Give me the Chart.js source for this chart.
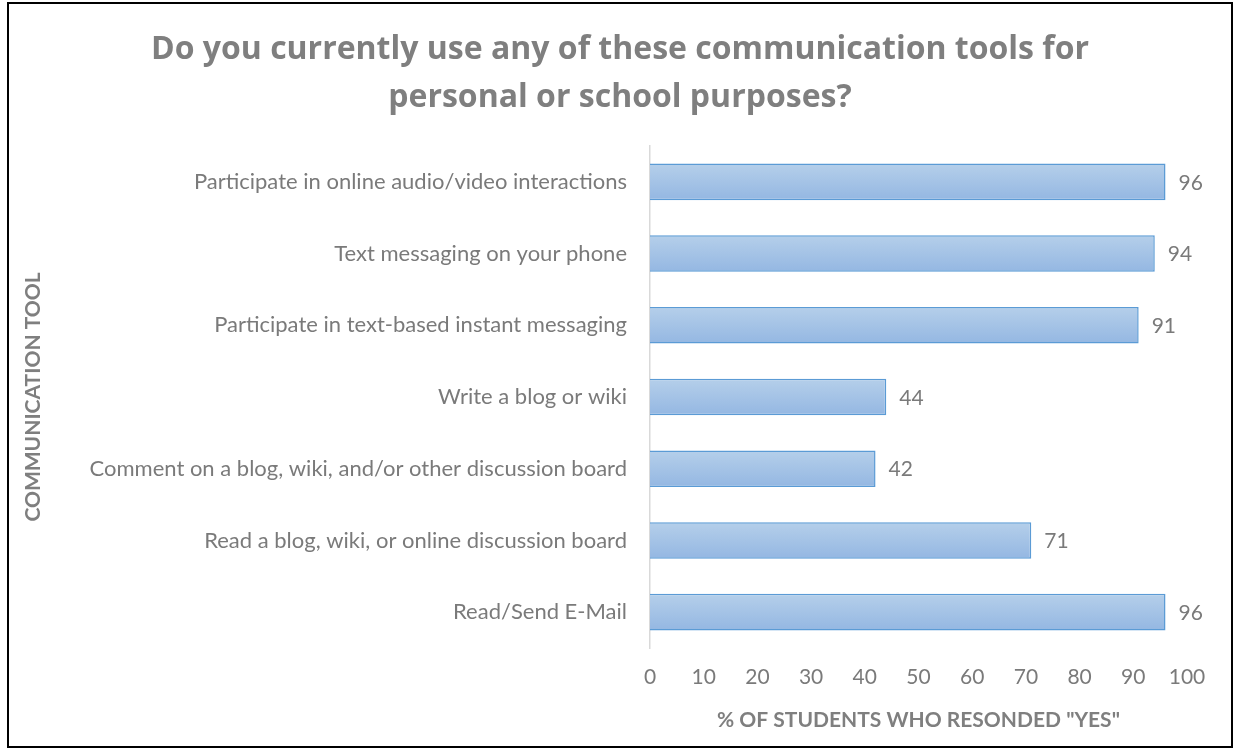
<!DOCTYPE html>
<html>
<head>
<meta charset="utf-8">
<script src="https://cdn.jsdelivr.net/npm/chart.js@4"></script>
<style>
  body { margin: 0; background: #fff; }
  #frame { position: absolute; left: 7px; top: 2px; width: 1222px; height: 742px; border: 2px solid #000; background: #fff; }
  #chart { display: block; }
</style>
</head>
<body>
<div id="frame"><canvas id="chart" width="1222" height="742"></canvas></div>
<script>
const titleLines = ['Do you currently use any of these communication tools for', 'personal or school purposes?'];
const categories = [
    'Participate in online audio/video interactions',
    'Text messaging on your phone',
    'Participate in text-based instant messaging',
    'Write a blog or wiki',
    'Comment on a blog, wiki, and/or other discussion board',
    'Read a blog, wiki, or online discussion board',
    'Read/Send E-Mail'
];
const yesPercent = [96, 94, 91, 44, 42, 71, 96];
const xTicks = [0, 10, 20, 30, 40, 50, 60, 70, 80, 90, 100];

const grey = '#7f7f7f';
const labelGrey = '#7a7a7a';
const barPct = 0.51;

// title centred on the whole frame (the built-in one centres between the paddings)
const frameTitle = {
    id: 'frameTitle',
    afterDraw(chart) {
        const c = chart.ctx;
        c.save();
        c.font = 'bold 32px "Open Sans"';
        c.fillStyle = grey;
        c.textAlign = 'center';
        c.textBaseline = 'middle';
        titleLines.forEach((line, i) => c.fillText(line, chart.width / 2, 46 + i * 48));
        c.restore();
    }
};

// value labels at the end of each bar
const valueLabels = {
    id: 'valueLabels',
    afterDatasetsDraw(chart) {
        const c = chart.ctx;
        const meta = chart.getDatasetMeta(0);
        c.save();
        c.font = '21px Lato';
        c.fillStyle = labelGrey;
        c.textBaseline = 'middle';
        c.textAlign = 'left';
        meta.data.forEach((bar, i) => {
            c.fillText(String(yesPercent[i]), bar.x + 13, bar.y + 1);
        });
        c.restore();
    }
};

function barGradient(context) {
    const chart = context.chart;
    const yScale = chart.scales.y;
    if (!chart.chartArea || !yScale || context.dataIndex === undefined) return '#a5c2e6';
    const cy = yScale.getPixelForValue(context.dataIndex);
    const h = (chart.chartArea.bottom - chart.chartArea.top) / categories.length * barPct;
    if (!Number.isFinite(cy) || !Number.isFinite(h)) return '#a5c2e6';
    const g = chart.ctx.createLinearGradient(0, cy - h / 2, 0, cy + h / 2);
    g.addColorStop(0, '#b5cfea');
    g.addColorStop(1, '#94b7e2');
    return g;
}

const ctx = document.getElementById('chart').getContext('2d');
new Chart(ctx, {
    type: 'bar',
    data: {
        labels: categories,
        datasets: [{
            data: yesPercent,
            backgroundColor: barGradient,
            borderColor: '#5b9bd5',
            borderWidth: 1.5,
            categoryPercentage: 1,
            barPercentage: barPct
        }]
    },
    options: {
        indexAxis: 'y',
        responsive: false,
        animation: false,
        layout: { padding: { left: 12, right: 44, top: 142, bottom: 0 } },
        plugins: {
            legend: { display: false },
            tooltip: { enabled: false },
            title: { display: false }
        },
        scales: {
            x: {
                min: 0,
                max: 100,
                afterBuildTicks(scale) {
                    scale.ticks = xTicks.map(v => ({ value: v }));
                },
                grid: { display: false },
                border: { display: false },
                ticks: { color: labelGrey, font: { family: 'Lato', size: 21 }, padding: 9 },
                title: {
                    display: true,
                    text: '% OF STUDENTS WHO RESONDED "YES"',
                    color: grey,
                    font: { family: 'Lato', size: 21, weight: 'bold' },
                    padding: { top: 8, bottom: 13 }
                },
                afterFit(scale) { scale.height = 98; }
            },
            y: {
                grid: { display: false },
                border: { display: true, color: '#d9d9d9', width: 1.5 },
                ticks: { color: labelGrey, font: { family: 'Lato', size: 22 }, padding: 15 },
                title: {
                    display: true,
                    text: 'COMMUNICATION TOOL',
                    color: grey,
                    font: { family: 'Lato', size: 21, weight: 'bold' },
                    padding: { top: 0, bottom: 0 }
                },
                afterFit(scale) { scale.width = 629; }
            }
        }
    },
    plugins: [valueLabels, frameTitle]
});
</script>
</body>
</html>
